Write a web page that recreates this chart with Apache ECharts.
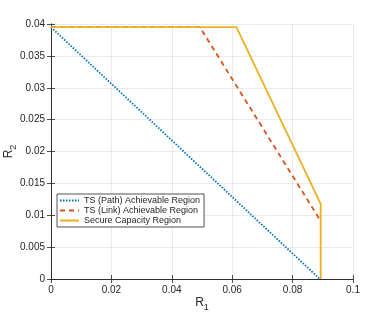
<!DOCTYPE html>
<html><head><meta charset="utf-8">
<script src="https://cdn.jsdelivr.net/npm/echarts@6/dist/echarts.min.js"></script>
<style>html,body{margin:0;padding:0;background:#fff}#c{width:390px;height:314px}</style>
</head><body><div id="c"></div>
<script>
const pathR1 = [0, 0.089];
const pathR2 = [0.0395, 0];
const linkR1 = [0, 0.0493, 0.0889];
const linkR2 = [0.0395, 0.0395, 0.0094];
const capR1 = [0, 0.0614, 0.0893, 0.0893];
const capR2 = [0.0395, 0.0395, 0.0118, 0];
const xTicks = ['0', '0.02', '0.04', '0.06', '0.08', '0.1'];
const yTicks = ['0', '0.005', '0.01', '0.015', '0.02', '0.025', '0.03', '0.035', '0.04'];
const names = ['TS (Path) Achievable Region', 'TS (Link) Achievable Region', 'Secure Capacity Region'];
const zip = (a, b) => a.map((v, i) => [v, b[i]]);
const font = 'Liberation Sans, Arial, sans-serif';
const axisLine = {show: true, lineStyle: {color: '#262626', width: 0.8}};
const grid = {show: true, lineStyle: {color: '#e6e6e6', width: 0.8}};
const tick = {show: true, inside: true, length: 4, lineStyle: {color: '#262626', width: 0.8}};
const chart = echarts.init(document.getElementById('c'), null, {renderer: 'canvas'});
chart.setOption({
  animation: false,
  backgroundColor: '#fff',
  grid: {left: 51, right: 37, top: 24, bottom: 35, containLabel: false, outerBoundsMode: 'none'},
  xAxis: [{
    type: 'value', min: 0, max: 0.1, interval: 0.02, position: 'bottom',
    axisLine, axisTick: tick, splitLine: grid,
    axisLabel: {color: '#262626', fontSize: 10, fontFamily: font, margin: 6,
      formatter: v => xTicks[Math.round(v / 0.02)]},
    name: '{a|R}{b|1}', nameLocation: 'middle', nameGap: 14, nameMoveOverlap: false,
    nameTextStyle: {verticalAlign: 'top', rich: {a: {fontSize: 12, fontFamily: font, color: '#262626'},
      b: {fontSize: 9, fontFamily: font, color: '#262626', verticalAlign: 'bottom', padding: [10, 0, 0, 0]}}}
  }, {
    type: 'value', min: 0, max: 0.1, interval: 0.02, position: 'top',
    axisLine, axisTick: tick, splitLine: {show: false}, axisLabel: {show: false}
  }],
  yAxis: [{
    type: 'value', min: 0, max: 0.04, interval: 0.005, position: 'left',
    axisLine, axisTick: tick, splitLine: grid,
    axisLabel: {color: '#262626', fontSize: 10, fontFamily: font, margin: 6,
      formatter: v => yTicks[Math.round(v / 0.005)]},
    name: '{a|R}{b|2}', nameLocation: 'middle', nameGap: 33, nameRotate: 90, nameMoveOverlap: false,
    nameTextStyle: {rich: {a: {fontSize: 12, fontFamily: font, color: '#262626'},
      b: {fontSize: 9, fontFamily: font, color: '#262626', padding: [10, 0, 0, 0]}}}
  }, {
    type: 'value', min: 0, max: 0.04, interval: 0.005, position: 'right',
    axisLine, axisTick: tick, splitLine: {show: false}, axisLabel: {show: false}
  }],
  legend: {
    show: true, left: 57, top: 194, orient: 'vertical', itemGap: 1, itemWidth: 19, itemHeight: 10,
    padding: [2, 4, 2, 2], backgroundColor: '#fff', borderColor: '#262626', borderWidth: 0.8,
    borderRadius: 0,
    itemStyle: {opacity: 0},
    textStyle: {fontSize: 9, fontFamily: font, color: '#262626'},
    data: names
  },
  series: [
    {name: names[0], type: 'line', data: zip(pathR1, pathR2), symbol: 'none',
      lineStyle: {color: '#0072BD', width: 1.8, type: [1.5, 1.5]}, itemStyle: {color: '#0072BD'}},
    {name: names[1], type: 'line', data: zip(linkR1, linkR2), symbol: 'none',
      lineStyle: {color: '#D95319', width: 1.8, type: [5, 4]}, itemStyle: {color: '#D95319'}},
    {name: names[2], type: 'line', data: zip(capR1, capR2), symbol: 'none',
      lineStyle: {color: '#EDB120', width: 1.8}, itemStyle: {color: '#EDB120'}}
  ]
});
</script></body></html>
